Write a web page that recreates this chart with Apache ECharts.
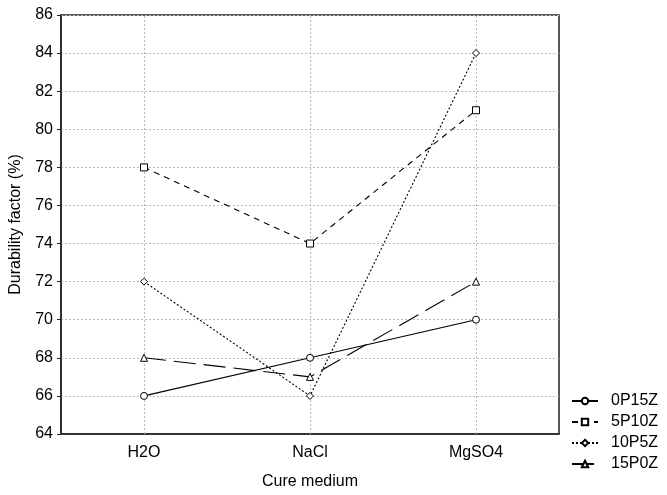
<!DOCTYPE html>
<html>
<head>
<meta charset="utf-8">
<script src="https://cdn.jsdelivr.net/npm/echarts@6/dist/echarts.min.js"></script>
<style>
  html, body { margin: 0; padding: 0; background: #fff; }
  #chart { width: 667px; height: 495px; }
</style>
</head>
<body>
<div id="chart"></div>
<script>
// cure media on the x axis
var media = ['H2O', 'NaCl', 'MgSO4'];
// durability factor per mix
var mix0P15Z = [66, 68, 70];
var mix5P10Z = [78, 74, 81];
var mix10P5Z = [72, 66, 84];
var mix15P0Z = [68, 67, 72];

var font = 'Liberation Sans, Arial, sans-serif';
var gridDot = { color: '#bbb', type: [2, 2], width: 1 };

function mkSeries(name, data, symbol, dash) {
    return {
        name: name,
        type: 'line',
        data: data,
        symbol: symbol,
        symbolSize: 7,
        showAllSymbol: true,
        lineStyle: { color: '#000', width: 1.1, type: dash },
        itemStyle: { color: '#fff', borderColor: '#000', borderWidth: 1 },
        emphasis: { disabled: true },
        z: 3
    };
}

var series = [
    mkSeries('0P15Z', mix0P15Z, 'circle', 'solid'),
    mkSeries('5P10Z', mix5P10Z, 'rect', [6, 5]),
    mkSeries('10P5Z', mix10P5Z, 'diamond', [2, 2]),
    mkSeries('15P0Z', mix15P0Z, 'triangle', [22, 8])
];
// vertical dotted grid lines at category centres
series[0].markLine = {
    silent: true,
    symbol: 'none',
    label: { show: false },
    lineStyle: gridDot,
    data: media.map(function (m) { return { xAxis: m }; }),
    z: 1
};

var chart = echarts.init(document.getElementById('chart'));
chart.setOption({
    backgroundColor: '#fff',
    animation: false,
    grid: {
        left: 61, top: 15, right: 108, bottom: 61,
        outerBoundsMode: 'none',
        show: true, borderColor: '#222', borderWidth: 1.5
    },
    xAxis: {
        type: 'category',
        data: media,
        boundaryGap: true,
        name: 'Cure medium',
        nameLocation: 'middle',
        nameGap: 40,
        nameTextStyle: { fontFamily: font, fontSize: 16, color: '#000' },
        axisLine: { lineStyle: { color: '#222', width: 1.5 } },
        axisTick: { alignWithLabel: true, inside: true, length: 3, lineStyle: { color: '#222' } },
        axisLabel: { fontFamily: font, fontSize: 16, color: '#000', margin: 11 },
        splitLine: { show: false }
    },
    yAxis: {
        type: 'value',
        min: 64,
        max: 86,
        interval: 2,
        name: 'Durability factor (%)',
        nameLocation: 'middle',
        nameGap: 37,
        nameTextStyle: { fontFamily: font, fontSize: 16, color: '#000' },
        axisLine: { show: true, lineStyle: { color: '#222', width: 1.5 } },
        axisTick: { show: true, length: 4, lineStyle: { color: '#222' } },
        axisLabel: { fontFamily: font, fontSize: 16, color: '#000', margin: 8 },
        splitLine: { show: true, lineStyle: gridDot }
    },
    legend: {
        orient: 'vertical',
        left: 566,
        top: 388,
        itemWidth: 26,
        itemHeight: 8,
        itemGap: 5,
        textStyle: { fontFamily: font, fontSize: 16, color: '#000', padding: [0, 0, 0, 8] },
        data: ['0P15Z', '5P10Z', '10P5Z', '15P0Z']
    },
    series: series
});
</script>
</body>
</html>
